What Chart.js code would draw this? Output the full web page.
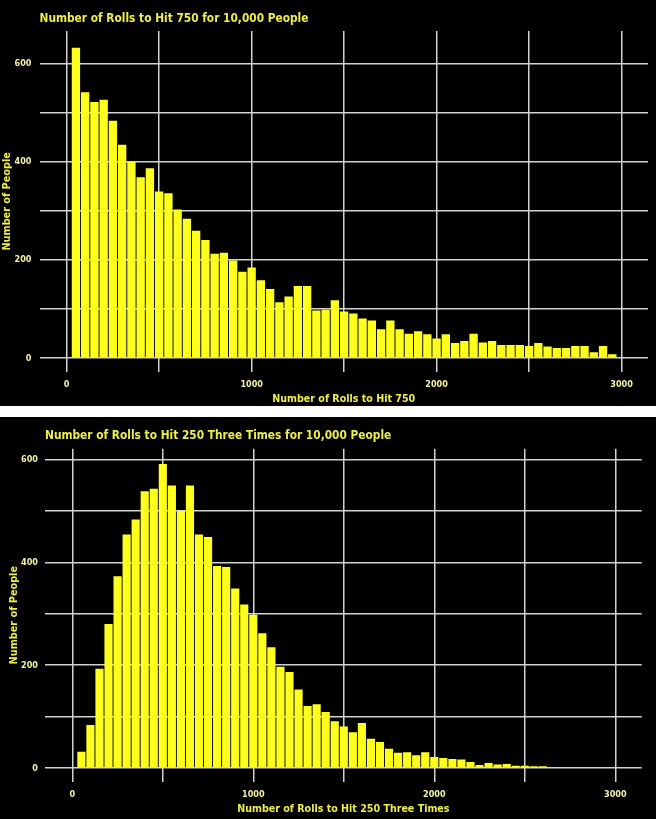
<!DOCTYPE html>
<html>
<head>
<meta charset="utf-8">
<script src="https://cdn.jsdelivr.net/npm/chart.js@4.4.1/dist/chart.umd.min.js"></script>
<style>
    body { margin: 0; background: #fff; }
    canvas { display: block; background: #000; }
    #grafico250 { margin-top: 11px; }
</style>
</head>
<body>
<canvas id="grafico750" width="656" height="406"></canvas>
<canvas id="grafico250" width="656" height="402"></canvas>
<script>
// centro de cada faixa de rolagens (largura 50) e quantas pessoas caíram nela
const rolagens750 = [50, 100, 150, 200, 250, 300, 350, 400, 450, 500, 550, 600, 650, 700, 750, 800, 850, 900, 950, 1000,
    1050, 1100, 1150, 1200, 1250, 1300, 1350, 1400, 1450, 1500, 1550, 1600, 1650, 1700, 1750, 1800, 1850, 1900, 1950, 2000,
    2050, 2100, 2150, 2200, 2250, 2300, 2350, 2400, 2450, 2500, 2550, 2600, 2650, 2700, 2750, 2800, 2850, 2900, 2950];
const pessoas750 = [633, 542, 522, 527, 484, 435, 400, 369, 387, 340, 336, 303, 284, 260, 241, 213, 215, 199, 176, 185,
    159, 141, 114, 126, 147, 147, 97, 99, 118, 95, 91, 81, 77, 59, 77, 59, 50, 55, 49, 40,
    49, 31, 35, 50, 32, 35, 27, 27, 27, 25, 31, 24, 21, 21, 25, 25, 12, 25, 8];

const rolagens250 = [50, 100, 150, 200, 250, 300, 350, 400, 450, 500, 550, 600, 650, 700, 750, 800, 850, 900, 950, 1000,
    1050, 1100, 1150, 1200, 1250, 1300, 1350, 1400, 1450, 1500, 1550, 1600, 1650, 1700, 1750, 1800, 1850, 1900, 1950, 2000,
    2050, 2100, 2150, 2200, 2250, 2300, 2350, 2400, 2450, 2500, 2550, 2600];
const pessoas250 = [32, 84, 193, 280, 373, 454, 483, 538, 543, 591, 549, 500, 549, 454, 449, 393, 391, 349, 318, 298,
    262, 235, 197, 187, 153, 121, 124, 109, 91, 81, 70, 88, 57, 51, 38, 30, 31, 25, 31, 22,
    20, 18, 17, 12, 6, 10, 7, 8, 5, 5, 4, 4];

const ticksX = [0, 500, 1000, 1500, 2000, 2500, 3000];
const ticksY = [0, 100, 200, 300, 400, 500, 600];

const amarelo = "#ffff1e";
const corTitulo = "#eeee48";
const corTick = "#f2f2a8";
const corGrade = "#d2d2d2";
const fonte = "'DejaVu Sans Condensed', 'Liberation Sans Narrow', sans-serif";

function montarGrafico(id, titulo, tituloX, xs, ys, m) {
    const pontos = xs.map((x, i) => ({ x: x, y: ys[i] }));
    return new Chart(document.getElementById(id), {
        type: "bar",
        data: {
            datasets: [{
                data: pontos,
                backgroundColor: amarelo,
                barPercentage: 0.9,
                categoryPercentage: 1
            }]
        },
        options: {
            responsive: false,
            animation: false,
            layout: { padding: { left: 0, right: m.direita, top: 0, bottom: 0 } },
            plugins: {
                legend: { display: false },
                tooltip: { enabled: false },
                title: {
                    display: true,
                    text: titulo,
                    align: "start",
                    fullSize: false,
                    color: corTitulo,
                    font: { family: fonte, size: 11.8, weight: "bold" },
                    padding: { top: m.tituloTopo, bottom: m.tituloBase }
                }
            },
            scales: {
                x: {
                    type: "linear",
                    offset: false,
                    min: m.xMin,
                    max: m.xMax,
                    afterBuildTicks: s => { s.ticks = ticksX.map(v => ({ value: v })); },
                    afterFit: s => { s.height = m.alturaX; },
                    ticks: {
                        autoSkip: false,
                        maxRotation: 0,
                        padding: 8,
                        color: corTick,
                        font: { family: fonte, size: 9, weight: "bold" },
                        callback: v => (v % 1000 === 0 ? v : "")
                    },
                    grid: { offset: false, color: corGrade, lineWidth: 1.5, drawTicks: false },
                    border: { display: false },
                    title: {
                        display: true,
                        text: tituloX,
                        color: corTitulo,
                        font: { family: fonte, size: 10.6, weight: "bold" },
                        padding: { top: 0, bottom: m.xTituloBase }
                    }
                },
                y: {
                    min: m.yMin,
                    max: m.yMax,
                    afterBuildTicks: s => { s.ticks = ticksY.map(v => ({ value: v })); },
                    afterFit: s => { s.width = m.larguraY; },
                    ticks: {
                        autoSkip: false,
                        padding: m.yPad,
                        color: corTick,
                        font: { family: fonte, size: 9, weight: "bold" },
                        callback: v => (v % 200 === 0 ? v : "")
                    },
                    grid: { color: corGrade, lineWidth: 1.5, drawTicks: false },
                    border: { display: false },
                    title: {
                        display: true,
                        text: "Number of People",
                        color: corTitulo,
                        font: { family: fonte, size: 10.8, weight: "bold" },
                        padding: { top: m.yTituloTopo, bottom: 0 }
                    }
                }
            }
        }
    });
}

window.addEventListener("load", () => {
    montarGrafico("grafico750", "Number of Rolls to Hit 750 for 10,000 People", "Number of Rolls to Hit 750",
        rolagens750, pessoas750, {
            xMin: -147, xMax: 3143, yMin: -27.5, yMax: 667,
            larguraY: 39.5, alturaX: 34.3, direita: 8,
            tituloTopo: 11.9, tituloBase: 4.9, xTituloBase: 0, yTituloTopo: 1, yPad: 8
        });

    montarGrafico("grafico250", "Number of Rolls to Hit 250 Three Times for 10,000 People", "Number of Rolls to Hit 250 Three Times",
        rolagens250, pessoas250, {
            xMin: -151, xMax: 3146, yMin: -26.2, yMax: 620.7,
            larguraY: 45, alturaX: 37.3, direita: 14.3,
            tituloTopo: 11.6, tituloBase: 5.9, xTituloBase: 3.4, yTituloTopo: 7.4, yPad: 7
        });
});
</script>
</body>
</html>
